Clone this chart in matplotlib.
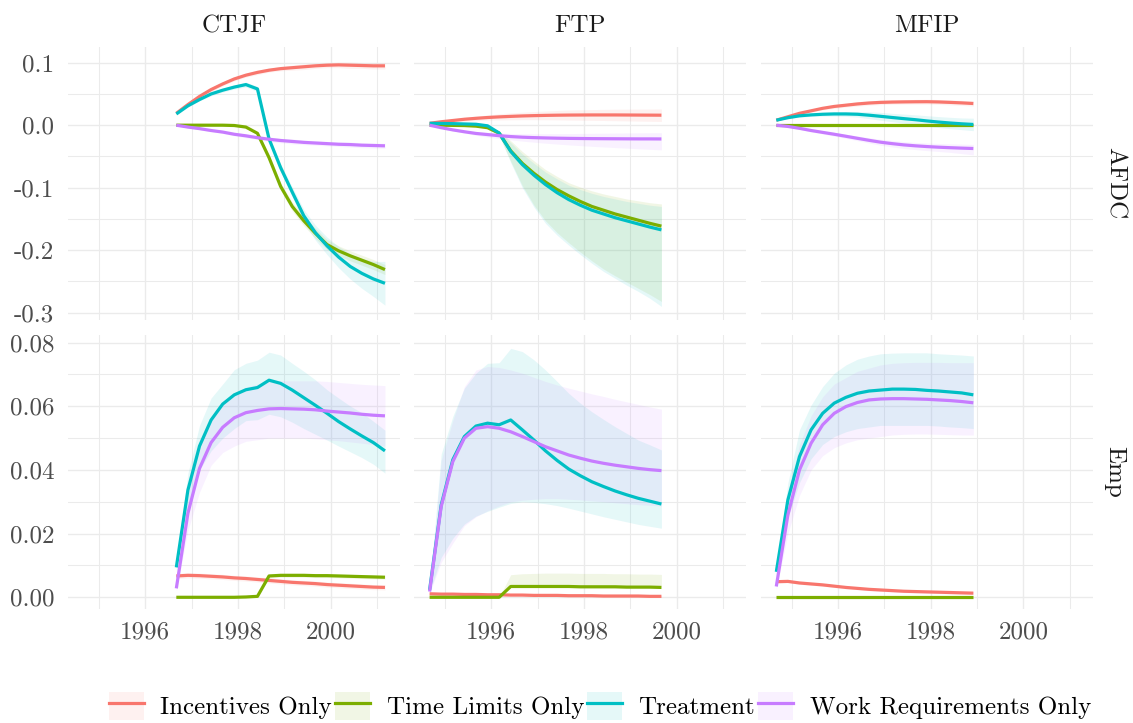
import matplotlib
matplotlib.use("Agg")
import matplotlib.pyplot as plt
from matplotlib.patches import Patch
from matplotlib.lines import Line2D
from matplotlib.ticker import MultipleLocator

plt.rcParams['font.family'] = ['cmr10', 'DejaVu Serif']
plt.rcParams['axes.formatter.use_mathtext'] = True
plt.rcParams['mathtext.fontset'] = 'cm'

# ---------------- data ----------------
series_names = ["Incentives Only", "Time Limits Only", "Treatment", "Work Requirements Only"]
series_colors = ["#F8766D", "#7CAE00", "#00BFC4", "#C77CFF"]
programs = ["CTJF", "FTP", "MFIP"]
outcomes = ["AFDC", "Emp"]

afdc_ticks = [-0.3, -0.2, -0.1, 0.0, 0.1]
afdc_ticklabels = ["-0.3", "-0.2", "-0.1", "0.0", "0.1"]
emp_ticks = [0.00, 0.02, 0.04, 0.06, 0.08]
emp_ticklabels = ["0.00", "0.02", "0.04", "0.06", "0.08"]
year_ticks = [1996, 1998, 2000]
year_ticklabels = ["1996", "1998", "2000"]

ctjf_year = [1996.67, 1996.92, 1997.17, 1997.42, 1997.67, 1997.92, 1998.17, 1998.42, 1998.67, 1998.92,
             1999.17, 1999.42, 1999.67, 1999.92, 2000.17, 2000.42, 2000.67, 2000.92, 2001.17]
ftp_year = [1994.67, 1994.92, 1995.17, 1995.42, 1995.67, 1995.92, 1996.17, 1996.42, 1996.67, 1996.92,
            1997.17, 1997.42, 1997.67, 1997.92, 1998.17, 1998.42, 1998.67, 1998.92, 1999.17, 1999.42, 1999.67]
mfip_year = [1994.67, 1994.92, 1995.17, 1995.42, 1995.67, 1995.92, 1996.17, 1996.42, 1996.67, 1996.92,
             1997.17, 1997.42, 1997.67, 1997.92, 1998.17, 1998.42, 1998.67, 1998.92]

# ---- CTJF, AFDC ----
ctjf_afdc_inc = [0.019, 0.033, 0.046, 0.057, 0.066, 0.074, 0.080, 0.0845, 0.088, 0.0905, 0.092, 0.0935, 0.095, 0.096, 0.0965, 0.096, 0.0955, 0.095, 0.095]
ctjf_afdc_inc_lo = [0.018, 0.031, 0.043, 0.054, 0.063, 0.071, 0.077, 0.081, 0.085, 0.087, 0.088, 0.089, 0.091, 0.092, 0.092, 0.091, 0.091, 0.090, 0.090]
ctjf_afdc_inc_hi = [0.020, 0.035, 0.049, 0.060, 0.069, 0.077, 0.083, 0.088, 0.091, 0.094, 0.096, 0.098, 0.099, 0.100, 0.101, 0.101, 0.100, 0.100, 0.100]
ctjf_afdc_tl = [0, 0, 0, 0, 0, -0.0005, -0.003, -0.013, -0.052, -0.098, -0.130, -0.153, -0.173, -0.191, -0.201, -0.209, -0.216, -0.223, -0.231]
ctjf_afdc_tl_lo = [-0.001, -0.001, -0.001, -0.001, -0.001, -0.0015, -0.004, -0.015, -0.056, -0.104, -0.137, -0.161, -0.181, -0.199, -0.209, -0.217, -0.224, -0.231, -0.239]
ctjf_afdc_tl_hi = [0.001, 0.001, 0.001, 0.001, 0.001, 0.0005, -0.002, -0.011, -0.048, -0.092, -0.123, -0.145, -0.165, -0.183, -0.193, -0.201, -0.208, -0.215, -0.223]
ctjf_afdc_tr = [0.018, 0.031, 0.041, 0.050, 0.056, 0.061, 0.065, 0.058, -0.022, -0.068, -0.107, -0.145, -0.172, -0.193, -0.211, -0.226, -0.237, -0.246, -0.253]
ctjf_afdc_tr_lo = [0.016, 0.029, 0.039, 0.047, 0.053, 0.058, 0.061, 0.054, -0.026, -0.074, -0.115, -0.155, -0.184, -0.207, -0.228, -0.246, -0.261, -0.274, -0.288]
ctjf_afdc_tr_hi = [0.020, 0.033, 0.043, 0.053, 0.059, 0.064, 0.069, 0.062, -0.018, -0.062, -0.099, -0.135, -0.160, -0.179, -0.194, -0.206, -0.213, -0.218, -0.218]
ctjf_afdc_wr = [0, -0.003, -0.0055, -0.0085, -0.011, -0.0145, -0.017, -0.020, -0.0225, -0.0245, -0.026, -0.0275, -0.0285, -0.0295, -0.0305, -0.031, -0.032, -0.0325, -0.033]
ctjf_afdc_wr_lo = [-0.001, -0.004, -0.007, -0.010, -0.013, -0.017, -0.020, -0.023, -0.026, -0.028, -0.030, -0.031, -0.032, -0.033, -0.034, -0.035, -0.036, -0.0365, -0.037]
ctjf_afdc_wr_hi = [0.001, -0.002, -0.004, -0.007, -0.009, -0.012, -0.014, -0.017, -0.019, -0.021, -0.022, -0.024, -0.025, -0.026, -0.027, -0.027, -0.028, -0.0285, -0.029]

# ---- CTJF, Emp ----
ctjf_emp_inc = [0.0067, 0.0069, 0.0068, 0.0066, 0.0064, 0.0061, 0.0059, 0.0056, 0.0053, 0.0050, 0.0047, 0.0045, 0.0043, 0.0040, 0.0038, 0.0036, 0.0034, 0.0032, 0.0031]
ctjf_emp_inc_lo = [0.0059, 0.0061, 0.0060, 0.0058, 0.0056, 0.0053, 0.0051, 0.0048, 0.0045, 0.0042, 0.0039, 0.0037, 0.0035, 0.0032, 0.0030, 0.0028, 0.0026, 0.0024, 0.0023]
ctjf_emp_inc_hi = [0.0075, 0.0077, 0.0076, 0.0074, 0.0072, 0.0069, 0.0067, 0.0064, 0.0061, 0.0058, 0.0055, 0.0053, 0.0051, 0.0048, 0.0046, 0.0044, 0.0042, 0.0040, 0.0039]
ctjf_emp_tl = [0, 0, 0, 0, 0, 0, 0.0001, 0.0003, 0.0067, 0.0069, 0.0069, 0.0069, 0.0068, 0.0068, 0.0067, 0.0066, 0.0065, 0.0064, 0.0063]
ctjf_emp_tl_lo = [0, 0, 0, 0, 0, 0, 0, 0.0001, 0.0061, 0.0063, 0.0063, 0.0063, 0.0062, 0.0062, 0.0061, 0.0060, 0.0059, 0.0058, 0.0057]
ctjf_emp_tl_hi = [0, 0, 0, 0, 0, 0, 0.0002, 0.0005, 0.0073, 0.0075, 0.0075, 0.0075, 0.0074, 0.0074, 0.0073, 0.0072, 0.0071, 0.0070, 0.0069]
ctjf_emp_tr = [0.0094, 0.0337, 0.0475, 0.0557, 0.0607, 0.0636, 0.0652, 0.0659, 0.0682, 0.0672, 0.0651, 0.0627, 0.0603, 0.0578, 0.0552, 0.0529, 0.0507, 0.0486, 0.0460]
ctjf_emp_tr_lo = [0.008, 0.029, 0.040, 0.046, 0.050, 0.053, 0.0555, 0.0558, 0.0575, 0.0567, 0.055, 0.053, 0.0512, 0.0494, 0.0475, 0.0457, 0.0439, 0.0418, 0.039]
ctjf_emp_tr_hi = [0.011, 0.039, 0.054, 0.0626, 0.067, 0.0715, 0.0735, 0.0745, 0.077, 0.0761, 0.0735, 0.071, 0.0683, 0.0652, 0.0626, 0.0601, 0.058, 0.0553, 0.0525]
ctjf_emp_wr = [0.0028, 0.0264, 0.0405, 0.0486, 0.0534, 0.0564, 0.058, 0.0587, 0.0592, 0.0593, 0.0592, 0.0591, 0.0589, 0.0585, 0.0582, 0.0579, 0.0575, 0.0572, 0.057]
ctjf_emp_wr_lo = [0.002, 0.021, 0.033, 0.0415, 0.0455, 0.0475, 0.049, 0.0495, 0.050, 0.050, 0.050, 0.050, 0.0498, 0.0495, 0.0492, 0.0488, 0.0484, 0.048, 0.0475]
ctjf_emp_wr_hi = [0.0036, 0.032, 0.048, 0.0557, 0.061, 0.064, 0.066, 0.067, 0.068, 0.068, 0.068, 0.068, 0.068, 0.0678, 0.0675, 0.0672, 0.0669, 0.0667, 0.0665]

# ---- FTP, AFDC ----
ftp_afdc_inc = [0.003, 0.0055, 0.0075, 0.0095, 0.011, 0.0123, 0.0133, 0.0141, 0.0148, 0.0153, 0.0157, 0.016, 0.0162, 0.0163, 0.0164, 0.0164, 0.0164, 0.0163, 0.0162, 0.0161, 0.016]
ftp_afdc_inc_lo = [0.0025, 0.0045, 0.0055, 0.0065, 0.0075, 0.0083, 0.0083, 0.0086, 0.0088, 0.0088, 0.0087, 0.0085, 0.0082, 0.008, 0.0078, 0.0075, 0.0072, 0.0069, 0.0066, 0.0063, 0.006]
ftp_afdc_inc_hi = [0.0035, 0.0065, 0.0095, 0.0125, 0.0145, 0.0163, 0.0183, 0.0196, 0.0208, 0.0218, 0.0227, 0.0235, 0.0242, 0.0246, 0.025, 0.0253, 0.0256, 0.0257, 0.0258, 0.0259, 0.026]
ftp_afdc_tl = [0, 0, -0.0003, -0.0006, -0.0015, -0.004, -0.0128, -0.041, -0.061, -0.077, -0.091, -0.103, -0.113, -0.122, -0.130, -0.136, -0.142, -0.147, -0.152, -0.157, -0.1615]
ftp_afdc_tl_lo = [-0.001, -0.001, -0.0013, -0.0016, -0.0025, -0.005, -0.016, -0.058, -0.097, -0.128, -0.153, -0.172, -0.188, -0.203, -0.217, -0.230, -0.241, -0.251, -0.261, -0.271, -0.282]
ftp_afdc_tl_hi = [0.001, 0.001, 0.0007, 0.0004, -0.0005, -0.003, -0.009, -0.025, -0.042, -0.057, -0.071, -0.082, -0.092, -0.099, -0.105, -0.110, -0.114, -0.118, -0.121, -0.124, -0.126]
ftp_afdc_tr = [0.003, 0.0028, 0.0025, 0.002, 0.0015, -0.001, -0.0125, -0.042, -0.063, -0.080, -0.095, -0.108, -0.119, -0.128, -0.136, -0.142, -0.148, -0.153, -0.158, -0.163, -0.1675]
ftp_afdc_tr_lo = [0.002, 0.0018, 0.0015, 0.001, 0.0005, -0.0025, -0.016, -0.060, -0.100, -0.131, -0.157, -0.176, -0.192, -0.207, -0.221, -0.234, -0.245, -0.256, -0.266, -0.277, -0.290]
ftp_afdc_tr_hi = [0.004, 0.0038, 0.0035, 0.003, 0.0025, 0.0005, -0.010, -0.028, -0.046, -0.061, -0.075, -0.086, -0.096, -0.103, -0.109, -0.114, -0.118, -0.122, -0.125, -0.128, -0.130]
ftp_afdc_wr = [0, -0.004, -0.0075, -0.0105, -0.0132, -0.015, -0.0168, -0.0182, -0.0192, -0.0199, -0.0204, -0.0208, -0.0211, -0.0213, -0.0215, -0.0216, -0.0217, -0.0218, -0.0219, -0.0219, -0.022]
ftp_afdc_wr_lo = [-0.0005, -0.005, -0.009, -0.0125, -0.0162, -0.019, -0.0215, -0.0235, -0.0255, -0.0272, -0.0288, -0.0302, -0.0315, -0.0327, -0.0338, -0.0348, -0.0358, -0.0367, -0.0377, -0.0386, -0.0395]
ftp_afdc_wr_hi = [0.0005, -0.003, -0.006, -0.0085, -0.0105, -0.0115, -0.0125, -0.0132, -0.0136, -0.0137, -0.0136, -0.0135, -0.0134, -0.0132, -0.013, -0.0128, -0.0126, -0.0124, -0.0122, -0.0121, -0.012]

# ---- FTP, Emp ----
ftp_emp_inc = [0.0011, 0.0010, 0.0010, 0.0009, 0.0009, 0.0008, 0.0008, 0.0007, 0.0007, 0.0006, 0.0006, 0.0006, 0.0005, 0.0005, 0.0005, 0.0004, 0.0004, 0.0004, 0.0004, 0.0003, 0.0003]
ftp_emp_inc_lo = [0.0008, 0.0007, 0.0007, 0.0006, 0.0006, 0.0005, 0.0005, 0.0004, 0.0004, 0.0003, 0.0003, 0.0003, 0.0002, 0.0002, 0.0002, 0.0001, 0.0001, 0.0001, 0.0001, 0.0, 0.0]
ftp_emp_inc_hi = [0.0014, 0.0013, 0.0013, 0.0012, 0.0012, 0.0011, 0.0011, 0.0010, 0.0010, 0.0009, 0.0009, 0.0009, 0.0008, 0.0008, 0.0008, 0.0007, 0.0007, 0.0007, 0.0007, 0.0006, 0.0006]
ftp_emp_tl = [0, 0, 0, 0, 0, 0, 0, 0.0034, 0.0034, 0.0034, 0.0034, 0.0034, 0.0034, 0.0033, 0.0033, 0.0033, 0.0033, 0.0032, 0.0032, 0.0032, 0.0031]
ftp_emp_tl_lo = [0, 0, 0, 0, 0, 0, 0, 0.0031, 0.0031, 0.0031, 0.0031, 0.0031, 0.0031, 0.0030, 0.0030, 0.0030, 0.0030, 0.0029, 0.0029, 0.0029, 0.0028]
ftp_emp_tl_hi = [0, 0, 0, 0, 0, 0, 0, 0.0071, 0.0074, 0.0075, 0.0076, 0.0076, 0.0076, 0.0075, 0.0075, 0.0075, 0.0074, 0.0074, 0.0073, 0.0073, 0.0072]
ftp_emp_tr = [0.0023, 0.029, 0.0432, 0.0505, 0.0538, 0.0547, 0.0542, 0.0557, 0.0526, 0.0494, 0.046, 0.043, 0.0403, 0.0382, 0.0363, 0.0348, 0.0334, 0.0322, 0.0311, 0.0302, 0.0293]
ftp_emp_tr_lo = [0.0015, 0.0125, 0.0185, 0.023, 0.0255, 0.027, 0.0283, 0.0295, 0.030, 0.0298, 0.0294, 0.0288, 0.028, 0.0271, 0.0262, 0.0253, 0.0245, 0.0237, 0.0229, 0.0223, 0.0217]
ftp_emp_tr_hi = [0.003, 0.045, 0.0568, 0.0657, 0.0704, 0.0735, 0.0737, 0.0782, 0.0772, 0.0746, 0.0714, 0.0678, 0.0641, 0.061, 0.0583, 0.0559, 0.0536, 0.0515, 0.0494, 0.0479, 0.0463]
ftp_emp_wr = [0.0018, 0.0285, 0.0426, 0.05, 0.0531, 0.0536, 0.0531, 0.052, 0.0505, 0.0489, 0.0473, 0.046, 0.0447, 0.0437, 0.0428, 0.0421, 0.0415, 0.041, 0.0405, 0.0401, 0.0398]
ftp_emp_wr_lo = [0.0012, 0.011, 0.017, 0.0225, 0.0253, 0.0272, 0.0287, 0.030, 0.0305, 0.0308, 0.031, 0.031, 0.0308, 0.0306, 0.0303, 0.030, 0.0297, 0.0294, 0.0291, 0.0289, 0.0287]
ftp_emp_wr_hi = [0.0024, 0.043, 0.0555, 0.0662, 0.0714, 0.0725, 0.0722, 0.0714, 0.0704, 0.0691, 0.0678, 0.0667, 0.0657, 0.0648, 0.0639, 0.0631, 0.0622, 0.0614, 0.0606, 0.0598, 0.0591]

# ---- MFIP, AFDC ----
mfip_afdc_inc = [0.008, 0.0135, 0.019, 0.023, 0.027, 0.030, 0.032, 0.034, 0.0355, 0.0365, 0.037, 0.0373, 0.0375, 0.0376, 0.0372, 0.0365, 0.0357, 0.0347]
mfip_afdc_inc_lo = [0.0075, 0.0125, 0.0175, 0.021, 0.0245, 0.027, 0.029, 0.0305, 0.032, 0.033, 0.0335, 0.0337, 0.0338, 0.0338, 0.0333, 0.0325, 0.0317, 0.0306]
mfip_afdc_inc_hi = [0.0085, 0.0145, 0.0205, 0.025, 0.0295, 0.033, 0.035, 0.0375, 0.039, 0.040, 0.0405, 0.0409, 0.0412, 0.0414, 0.0411, 0.0405, 0.0397, 0.0388]
mfip_afdc_tl = [0, 0, 0, 0, 0, 0, 0, 0, 0, 0, 0, 0, 0, 0, 0, 0, 0, 0]
mfip_afdc_tl_lo = [-0.0005, -0.0005, -0.0005, -0.0005, -0.0005, -0.0005, -0.0005, -0.0005, -0.0005, -0.0005, -0.0005, -0.0005, -0.0005, -0.0005, -0.0005, -0.0005, -0.0005, -0.0005]
mfip_afdc_tl_hi = [0.0005, 0.0005, 0.0005, 0.0005, 0.0005, 0.0005, 0.0005, 0.0005, 0.0005, 0.0005, 0.0005, 0.0005, 0.0005, 0.0005, 0.0005, 0.0005, 0.0005, 0.0005]
mfip_afdc_tr = [0.008, 0.012, 0.015, 0.0165, 0.0175, 0.018, 0.018, 0.0175, 0.016, 0.0142, 0.0123, 0.0105, 0.0088, 0.0068, 0.005, 0.0035, 0.0022, 0.0012]
mfip_afdc_tr_lo = [0.007, 0.0105, 0.013, 0.014, 0.0145, 0.0145, 0.014, 0.013, 0.0105, 0.0079, 0.0056, 0.0032, 0.001, -0.0016, -0.0038, -0.0056, -0.0072, -0.0088]
mfip_afdc_tr_hi = [0.009, 0.0135, 0.017, 0.019, 0.0205, 0.0215, 0.022, 0.022, 0.0215, 0.0205, 0.019, 0.0178, 0.0166, 0.0152, 0.0138, 0.0126, 0.0116, 0.0112]
mfip_afdc_wr = [0, -0.002, -0.005, -0.0085, -0.0115, -0.0145, -0.0177, -0.021, -0.0242, -0.0272, -0.0295, -0.0315, -0.033, -0.0342, -0.0352, -0.036, -0.0367, -0.0373]
mfip_afdc_wr_lo = [-0.0005, -0.003, -0.0065, -0.0105, -0.014, -0.0175, -0.021, -0.0248, -0.0285, -0.032, -0.0348, -0.0372, -0.039, -0.0407, -0.042, -0.0435, -0.0455, -0.0475]
mfip_afdc_wr_hi = [0.0005, -0.001, -0.0035, -0.0065, -0.009, -0.0115, -0.0145, -0.0172, -0.02, -0.0226, -0.0245, -0.0262, -0.0275, -0.0285, -0.0292, -0.0298, -0.0303, -0.0308]

# ---- MFIP, Emp ----
mfip_emp_inc = [0.0049, 0.0050, 0.0045, 0.0042, 0.0039, 0.0035, 0.0031, 0.0028, 0.0025, 0.0023, 0.0021, 0.0019, 0.0018, 0.0017, 0.0016, 0.0015, 0.0014, 0.0013]
mfip_emp_inc_lo = [0.0045, 0.0046, 0.0041, 0.0038, 0.0035, 0.0031, 0.0027, 0.0024, 0.0021, 0.0019, 0.0017, 0.0015, 0.0014, 0.0013, 0.0012, 0.0011, 0.0010, 0.0009]
mfip_emp_inc_hi = [0.0053, 0.0054, 0.0049, 0.0046, 0.0043, 0.0039, 0.0035, 0.0032, 0.0029, 0.0027, 0.0025, 0.0023, 0.0022, 0.0021, 0.0020, 0.0019, 0.0018, 0.0017]
mfip_emp_tl = [0, 0, 0, 0, 0, 0, 0, 0, 0, 0, 0, 0, 0, 0, 0, 0, 0, 0]
mfip_emp_tl_lo = [0, 0, 0, 0, 0, 0, 0, 0, 0, 0, 0, 0, 0, 0, 0, 0, 0, 0]
mfip_emp_tl_hi = [0, 0, 0, 0, 0, 0, 0, 0, 0, 0, 0, 0, 0, 0, 0, 0, 0, 0]
mfip_emp_tr = [0.008, 0.0306, 0.0442, 0.0526, 0.0578, 0.061, 0.0628, 0.0641, 0.0648, 0.0651, 0.0654, 0.0654, 0.0653, 0.065, 0.0648, 0.0645, 0.0642, 0.0636]
mfip_emp_tr_lo = [0.007, 0.025, 0.036, 0.0435, 0.048, 0.0505, 0.052, 0.053, 0.0535, 0.054, 0.054, 0.054, 0.054, 0.054, 0.0538, 0.0535, 0.0533, 0.053]
mfip_emp_tr_hi = [0.009, 0.036, 0.0526, 0.0604, 0.0662, 0.0704, 0.073, 0.0748, 0.0758, 0.0765, 0.0767, 0.0768, 0.0768, 0.0768, 0.0765, 0.0763, 0.0761, 0.0758]
mfip_emp_wr = [0.0034, 0.0259, 0.040, 0.0484, 0.0542, 0.0578, 0.0599, 0.0612, 0.062, 0.0623, 0.0624, 0.0624, 0.0623, 0.0622, 0.062, 0.0618, 0.0615, 0.0611]
mfip_emp_wr_lo = [0.0025, 0.020, 0.032, 0.040, 0.0445, 0.047, 0.0485, 0.0495, 0.050, 0.0505, 0.051, 0.0512, 0.0513, 0.0513, 0.0512, 0.0511, 0.051, 0.051]
mfip_emp_wr_hi = [0.0045, 0.032, 0.048, 0.057, 0.063, 0.067, 0.069, 0.071, 0.072, 0.0730, 0.0735, 0.0737, 0.0738, 0.0738, 0.0738, 0.0737, 0.0737, 0.0737]

# ---------------- assemble ----------------
years = {"CTJF": ctjf_year, "FTP": ftp_year, "MFIP": mfip_year}
panels = {
    ("AFDC", "CTJF"): [(ctjf_afdc_inc, ctjf_afdc_inc_lo, ctjf_afdc_inc_hi), (ctjf_afdc_tl, ctjf_afdc_tl_lo, ctjf_afdc_tl_hi),
                       (ctjf_afdc_tr, ctjf_afdc_tr_lo, ctjf_afdc_tr_hi), (ctjf_afdc_wr, ctjf_afdc_wr_lo, ctjf_afdc_wr_hi)],
    ("Emp", "CTJF"): [(ctjf_emp_inc, ctjf_emp_inc_lo, ctjf_emp_inc_hi), (ctjf_emp_tl, ctjf_emp_tl_lo, ctjf_emp_tl_hi),
                      (ctjf_emp_tr, ctjf_emp_tr_lo, ctjf_emp_tr_hi), (ctjf_emp_wr, ctjf_emp_wr_lo, ctjf_emp_wr_hi)],
    ("AFDC", "FTP"): [(ftp_afdc_inc, ftp_afdc_inc_lo, ftp_afdc_inc_hi), (ftp_afdc_tl, ftp_afdc_tl_lo, ftp_afdc_tl_hi),
                      (ftp_afdc_tr, ftp_afdc_tr_lo, ftp_afdc_tr_hi), (ftp_afdc_wr, ftp_afdc_wr_lo, ftp_afdc_wr_hi)],
    ("Emp", "FTP"): [(ftp_emp_inc, ftp_emp_inc_lo, ftp_emp_inc_hi), (ftp_emp_tl, ftp_emp_tl_lo, ftp_emp_tl_hi),
                     (ftp_emp_tr, ftp_emp_tr_lo, ftp_emp_tr_hi), (ftp_emp_wr, ftp_emp_wr_lo, ftp_emp_wr_hi)],
    ("AFDC", "MFIP"): [(mfip_afdc_inc, mfip_afdc_inc_lo, mfip_afdc_inc_hi), (mfip_afdc_tl, mfip_afdc_tl_lo, mfip_afdc_tl_hi),
                       (mfip_afdc_tr, mfip_afdc_tr_lo, mfip_afdc_tr_hi), (mfip_afdc_wr, mfip_afdc_wr_lo, mfip_afdc_wr_hi)],
    ("Emp", "MFIP"): [(mfip_emp_inc, mfip_emp_inc_lo, mfip_emp_inc_hi), (mfip_emp_tl, mfip_emp_tl_lo, mfip_emp_tl_hi),
                      (mfip_emp_tr, mfip_emp_tr_lo, mfip_emp_tr_hi), (mfip_emp_wr, mfip_emp_wr_lo, mfip_emp_wr_hi)],
}

# ---------------- layout ----------------
W, H = 1133, 723
fig = plt.figure(figsize=(W / 100, H / 100), dpi=100)
col_left = [68.3, 414.3, 761.0]
col_w = 331.5
row_top = [46.7, 335.0]
row_h = [273.3, 274.3]
xlim = (1994.34, 2001.49)
ylims = {"AFDC": (-0.3117, 0.1256), "Emp": (-0.00377, 0.0824)}
grid_col = "#EBEBEB"
tick_col = "#4D4D4D"
FS = 18
LW = 2.3

for r, outc in enumerate(outcomes):
    for c, prog in enumerate(programs):
        ax = fig.add_axes([col_left[c] / W, 1 - (row_top[r] + row_h[r]) / H, col_w / W, row_h[r] / H])
        ax.set_xlim(*xlim)
        ax.set_ylim(*ylims[outc])
        for s in ax.spines.values():
            s.set_visible(False)
        ax.set_xticks(year_ticks, labels=year_ticklabels if r == 1 else [])
        if outc == "AFDC":
            ax.set_yticks(afdc_ticks, labels=afdc_ticklabels if c == 0 else [])
            ax.yaxis.set_minor_locator(MultipleLocator(0.1))
            ax.set_yticks([-0.25, -0.15, -0.05, 0.05], minor=True)
        else:
            ax.set_yticks(emp_ticks, labels=emp_ticklabels if c == 0 else [])
            ax.set_yticks([0.01, 0.03, 0.05, 0.07], minor=True)
        ax.set_xticks([1995, 1997, 1999, 2001], minor=True)
        ax.tick_params(which="both", length=0, labelsize=FS, labelcolor=tick_col)
        ax.tick_params(axis="y", pad=10)
        ax.tick_params(axis="x", pad=9)
        ax.grid(True, which="major", color=grid_col, lw=1.0)
        ax.grid(True, which="minor", color=grid_col, lw=0.75)
        ax.set_axisbelow(True)
        yrs = years[prog]
        data = panels[(outc, prog)]
        for (v, lo, hi), col in zip(data, series_colors):
            ax.fill_between(yrs, lo, hi, color=col, alpha=0.1, lw=0)
        for (v, lo, hi), col in zip(data, series_colors):
            ax.plot(yrs, v, color=col, lw=LW, solid_joinstyle="round", solid_capstyle="butt")
        if r == 0:
            ax.set_title(prog, fontsize=FS, color="#1A1A1A", pad=10.5)
        if c == 2:
            ax.text(1.0 + 22 / col_w, 0.5, outc, transform=ax.transAxes, rotation=270,
                    ha="center", va="center", fontsize=FS, color="#1A1A1A")

handles = [(Patch(facecolor=col, alpha=0.1, edgecolor="none"), Line2D([], [], color=col, lw=LW))
           for col in series_colors]
fig.legend(handles, series_names, loc="center", bbox_to_anchor=(600 / W, 1 - 706 / H), ncol=4,
           frameon=False, fontsize=FS, handlelength=1.39, handleheight=1.34, handletextpad=0.66,
           columnspacing=0.13, borderpad=0, borderaxespad=0)

fig.savefig("out.png", dpi=100)
